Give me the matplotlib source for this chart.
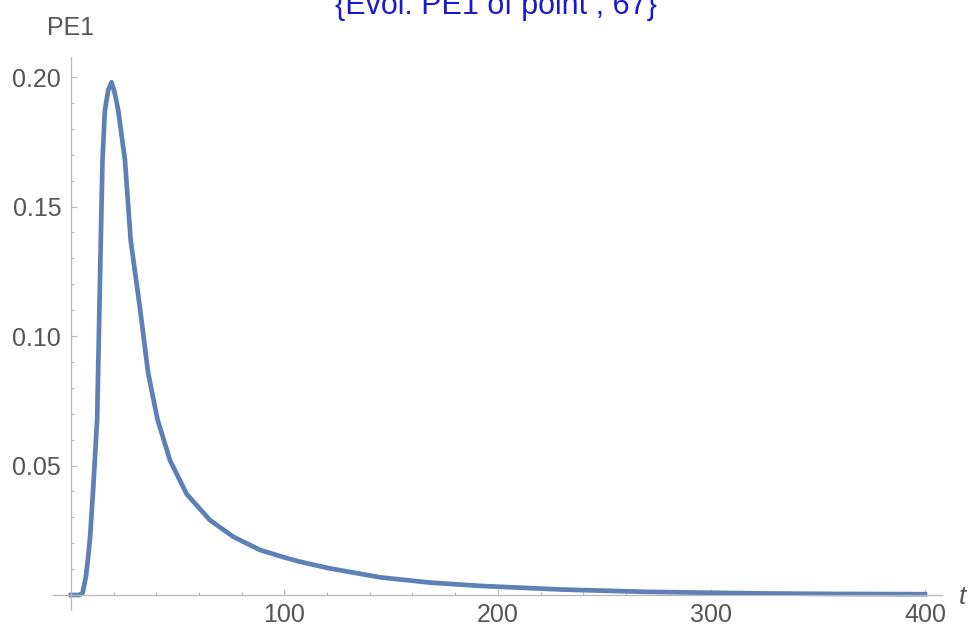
import matplotlib
matplotlib.use("Agg")
import matplotlib.pyplot as plt
from matplotlib.ticker import MultipleLocator, FormatStrFormatter

# values
t = [0, 4, 5.5, 7, 8, 9, 10.5, 12.3, 14.0, 14.8, 15.9, 17.5, 19, 20.5, 22.2,
     25.3, 28, 32.3, 36.2, 40.5, 46.4, 54.2, 65, 76, 88.5, 100, 107, 121,
     145, 168, 192, 230, 270, 323, 360, 400]
pe1 = [0, 0, 0.0008, 0.007, 0.014, 0.0225, 0.042, 0.068, 0.137, 0.168, 0.187,
       0.195, 0.198, 0.194, 0.187, 0.168, 0.137, 0.111, 0.0856, 0.068, 0.052,
       0.039, 0.029, 0.0225, 0.0174, 0.0145, 0.0129, 0.0103, 0.0068, 0.0048,
       0.0035, 0.0021, 0.0012, 0.0006, 0.0004, 0.0003]

title = "{Evol. PE1 of point , 67}"
ylabel = "PE1"
xlabel = "t"

plt.rcParams["font.family"] = ["Liberation Sans", "DejaVu Sans"]
axis_col = "#b8b8b8"
text_col = "#555555"

fig = plt.figure(figsize=(9.72, 6.29), dpi=100)
ax = fig.add_axes([0.0545, 0.0302, 0.9146, 0.879])

ax.plot(t, pe1, color="#5E81B5", linewidth=3.4, solid_joinstyle="round", clip_on=False)

ax.set_xlim(-8.4, 408)
ax.set_ylim(-0.0058, 0.2077)

for side in ("top", "right"):
    ax.spines[side].set_visible(False)
ax.spines["left"].set_position(("data", 0))
ax.spines["bottom"].set_position(("data", 0))
for side in ("left", "bottom"):
    ax.spines[side].set_color(axis_col)
    ax.spines[side].set_linewidth(0.9)

ax.xaxis.set_minor_locator(MultipleLocator(20))
ax.yaxis.set_minor_locator(MultipleLocator(0.01))
ax.yaxis.set_major_formatter(FormatStrFormatter("%.2f"))
ax.set_xticks([100, 200, 300, 400])
ax.set_yticks([0.05, 0.10, 0.15, 0.20])

ax.tick_params(which="both", direction="in", colors=axis_col, labelcolor=text_col,
               labelsize=18)
ax.tick_params(which="major", length=4, width=0.9)
ax.tick_params(which="minor", length=2.2, width=0.8)
ax.tick_params(axis="x", pad=6)
ax.tick_params(axis="y", pad=7)

fig.text(0.0725, 0.944, ylabel, fontsize=18, color=text_col, ha="center", va="baseline")
fig.text(0.994, 0.040, xlabel, fontsize=19, color=text_col, ha="right", va="baseline",
         style="italic")
# title sits partly above the top edge, as in the reference
fig.text(0.51, 0.977, title, fontsize=22, color="#1a1acc", ha="center", va="baseline")

fig.savefig("out.png", dpi=100)
